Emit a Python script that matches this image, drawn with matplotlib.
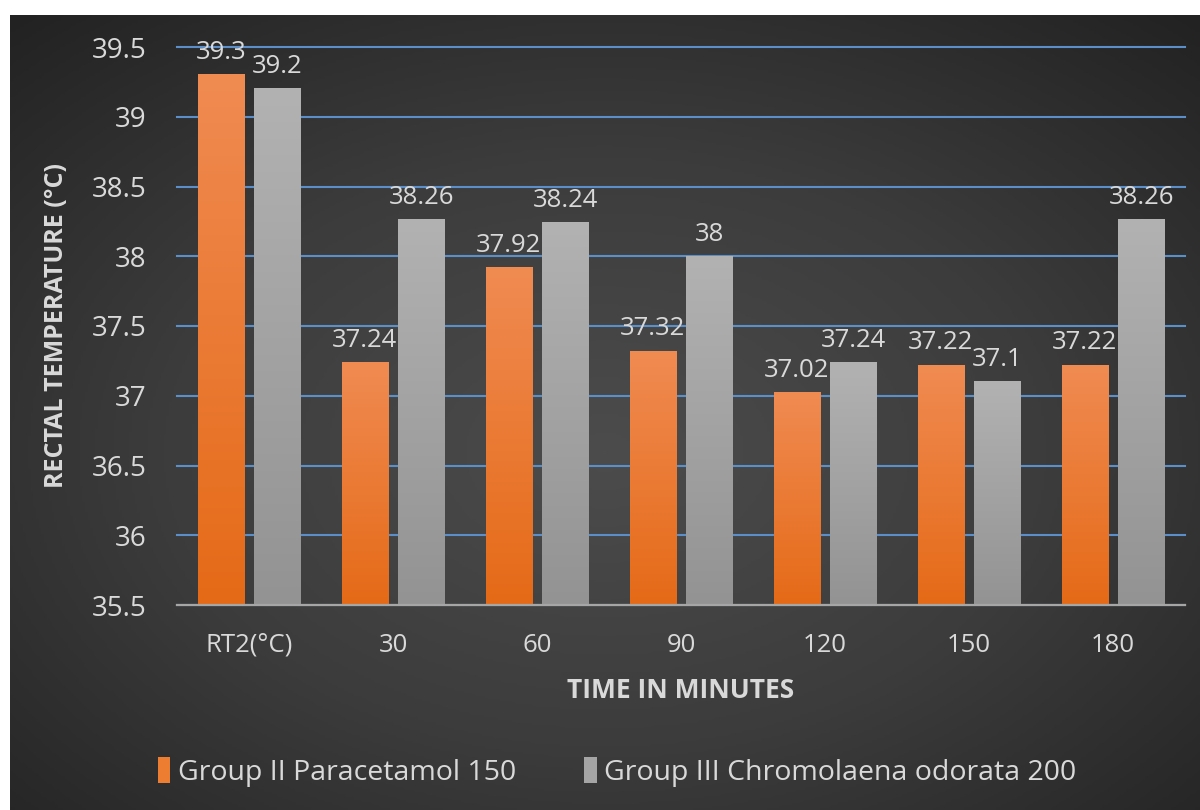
import numpy as np
import matplotlib
matplotlib.use("Agg")
import matplotlib.pyplot as plt
from matplotlib.colors import LinearSegmentedColormap
from matplotlib.patches import Patch

plt.rcParams['font.family'] = ['Open Sans', 'DejaVu Sans']

categorias = ["RT2(°C)", "30", "60", "90", "120", "150", "180"]
paracetamol = [39.3, 37.24, 37.92, 37.32, 37.02, 37.22, 37.22]
chromolaena = [39.2, 38.26, 38.24, 38.0, 37.24, 37.1, 38.26]
rotulos_para = ["39.3", "37.24", "37.92", "37.32", "37.02", "37.22", "37.22"]
rotulos_chro = ["39.2", "38.26", "38.24", "38", "37.24", "37.1", "38.26"]
nome_para = "Group II Paracetamol 150"
nome_chro = "Group III Chromolaena odorata 200"

cor_texto = "#d9d9d9"

fig = plt.figure(figsize=(12, 8.1), dpi=100)
fig.patch.set_facecolor("white")

# fundo escuro com gradiente radial
ax_fundo = fig.add_axes([10 / 1200, 0, 1190 / 1200, 795 / 810])
ax_fundo.set_axis_off()
gy, gx = np.mgrid[0:1:300j, 0:1:450j]
r = np.sqrt(((gx - 0.5) / 0.75) ** 2 + ((gy - 0.55) / 0.75) ** 2)
r = np.clip(r / r.max(), 0, 1)
cmap_fundo = LinearSegmentedColormap.from_list("fundo", ["#4c4c4c", "#3c3c3c", "#222222"])
ax_fundo.imshow(r, cmap=cmap_fundo, aspect="auto", extent=[0, 1, 0, 1], vmin=0, vmax=1)
ax_fundo.set_xlim(0, 1)
ax_fundo.set_ylim(0, 1)

ax = fig.add_axes([177 / 1200, 1 - 605 / 810, 1008 / 1200, (605 - 47) / 810])
ax.patch.set_alpha(0)

xs = np.arange(len(categorias))
largura = 0.32
desloc = 0.195

barras1 = ax.bar(xs - desloc, [v - 35.5 for v in paracetamol], largura, bottom=35.5,
                 color="#ed7d31", zorder=3)
barras2 = ax.bar(xs + desloc, [v - 35.5 for v in chromolaena], largura, bottom=35.5,
                 color="#a5a5a5", zorder=3)

cmap_laranja = LinearSegmentedColormap.from_list("lar", ["#e56a17", "#f08b52"])
cmap_cinza = LinearSegmentedColormap.from_list("cin", ["#939393", "#b2b2b2"])
grad = np.linspace(0, 1, 256).reshape(-1, 1)
for barras, cm in [(barras1, cmap_laranja), (barras2, cmap_cinza)]:
    for b in barras:
        x0 = b.get_x()
        x1 = x0 + b.get_width()
        y0 = b.get_y()
        y1 = y0 + b.get_height()
        ax.imshow(grad, cmap=cm, aspect="auto", origin="lower",
                  extent=[x0, x1, y0, y1], zorder=4)

for x, v, t in zip(xs, paracetamol, rotulos_para):
    ax.annotate(t, (x - desloc, v), textcoords="offset points", xytext=(0, 7),
                ha="center", va="bottom", color=cor_texto, fontsize=18.5, zorder=6)
for x, v, t in zip(xs, chromolaena, rotulos_chro):
    ax.annotate(t, (x + desloc, v), textcoords="offset points", xytext=(0, 7),
                ha="center", va="bottom", color=cor_texto, fontsize=18.5, zorder=6)

ax.set_xlim(-0.5, len(categorias) - 0.5)
ax.set_ylim(35.5, 39.5)
ax.set_yticks(np.arange(35.5, 39.51, 0.5))
ax.set_yticklabels(["35.5", "36", "36.5", "37", "37.5", "38", "38.5", "39", "39.5"])
ax.set_xticks(xs)
ax.set_xticklabels(categorias)
ax.tick_params(axis="x", length=0, colors=cor_texto, labelsize=18.5, pad=20)
ax.tick_params(axis="y", length=0, colors=cor_texto, labelsize=20, pad=22)
ax.grid(axis="y", color="#5b8fc9", linewidth=1.5, zorder=1)
for gl in ax.get_ygridlines():
    gl.set_clip_on(False)
for s in ["top", "right", "left"]:
    ax.spines[s].set_visible(False)
ax.spines["bottom"].set_color("#a6a6a6")
ax.spines["bottom"].set_linewidth(1.6)
ax.spines["bottom"].set_zorder(5)

ax.set_xlabel("TIME IN MINUTES", color=cor_texto, fontsize=19, fontweight="bold", labelpad=14)
ax.set_ylabel("RECTAL TEMPERATURE (°C)", color=cor_texto, fontsize=18, fontweight="bold", labelpad=16)

handles = [Patch(facecolor="#ed7d31", edgecolor="none"), Patch(facecolor="#a5a5a5", edgecolor="none")]
fig.legend(handles, [nome_para, nome_chro], loc="center", bbox_to_anchor=(617 / 1200, 1 - 772 / 810),
           ncol=2, frameon=False, fontsize=20.5, labelcolor=cor_texto,
           handlelength=0.45, handleheight=1.0, handletextpad=0.25, columnspacing=2.4)

fig.savefig("out.png", dpi=100, facecolor=fig.get_facecolor())
